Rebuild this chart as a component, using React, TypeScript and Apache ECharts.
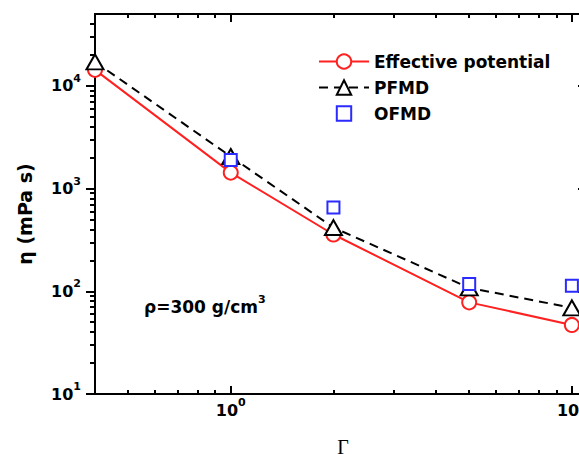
import React, { useEffect, useRef } from 'react';
import * as echarts from 'echarts';

// ---- data ----
const gammaEffective = [0.4, 1, 2, 5, 10];
const etaEffective = [14300, 1430, 357, 78, 47];
const gammaPFMD = [0.4, 1, 2, 5, 10];
const etaPFMD = [17100, 2050, 417, 108, 69];
const gammaOFMD = [1, 2, 5, 10];
const etaOFMD = [1900, 653, 118, 113];

const seriesNames = ['Effective potential', 'PFMD', 'OFMD'];

const xMajorTicks = [1, 10];
const xMinorTicks = [0.5, 0.6, 0.7, 0.8, 0.9, 2, 3, 4, 5, 6, 7, 8, 9];
const yMajorTicks = [10, 100, 1000, 10000];
const yMinorTicks = [
  20, 30, 40, 50, 60, 70, 80, 90,
  200, 300, 400, 500, 600, 700, 800, 900,
  2000, 3000, 4000, 5000, 6000, 7000, 8000, 9000,
  20000, 30000, 40000,
];

const X_MIN = 0.4;
const X_MAX = 11;
const Y_MIN = 10;
const Y_MAX = 50000;

const FONT = '"DejaVu Sans", sans-serif';

const powLabel = (v: number) => `{b|10}{s|${Math.round(Math.log10(v))}}`;

const labelRich = {
  b: { fontFamily: FONT, fontWeight: 'bold', fontSize: 16, color: '#000', lineHeight: 26 },
  s: { fontFamily: FONT, fontWeight: 'bold', fontSize: 11, color: '#000', lineHeight: 10, verticalAlign: 'top' },
};

function makeAxis(
  kind: 'x' | 'y',
  position: string,
  ticks: number[],
  tickLen: number,
  inside: boolean,
  labelMargin?: number
) {
  return {
    type: 'log',
    logBase: 10,
    position,
    min: kind === 'x' ? X_MIN : Y_MIN,
    max: kind === 'x' ? X_MAX : Y_MAX,
    axisLine: { show: true, onZero: false, lineStyle: { color: '#000', width: 2 } },
    axisTick: {
      show: true,
      inside,
      length: tickLen,
      customValues: ticks,
      lineStyle: { color: '#000', width: 2 },
    },
    axisLabel:
      labelMargin !== undefined
        ? { show: true, customValues: ticks, formatter: powLabel, rich: labelRich, margin: labelMargin }
        : { show: false },
    splitLine: { show: false },
    minorTick: { show: false },
    minorSplitLine: { show: false },
    z: 3,
  };
}

const zip = (xs: number[], ys: number[]) => xs.map((x, i) => [x, ys[i]]);

export default function App() {
  const ref = useRef<HTMLDivElement>(null);

  useEffect(() => {
    if (!ref.current) return;
    const chart = echarts.init(ref.current, null, { renderer: 'svg' });
    const option: any = {
      animation: false,
      backgroundColor: '#fff',
      grid: { left: 95, top: 14, width: 491, height: 380, containLabel: false, outerBoundsMode: 'none' },
      xAxis: [
        makeAxis('x', 'bottom', xMajorTicks, 8, true, 3),
        makeAxis('x', 'bottom', xMinorTicks, 4, true),
        makeAxis('x', 'top', xMajorTicks, 8, true),
        makeAxis('x', 'top', xMinorTicks, 4, true),
      ],
      yAxis: [
        makeAxis('y', 'left', yMajorTicks, 9, false, 14),
        makeAxis('y', 'left', yMinorTicks, 5, false),
        makeAxis('y', 'right', yMajorTicks, 8, true),
        makeAxis('y', 'right', yMinorTicks, 4, true),
      ],
      legend: {
        left: 318,
        top: 53,
        orient: 'vertical',
        padding: 0,
        itemWidth: 50,
        itemHeight: 18,
        itemGap: 9,
        selectedMode: false,
        textStyle: { fontFamily: FONT, fontWeight: 'bold', fontSize: 17, color: '#000' },
        data: seriesNames,
      },
      series: [
        {
          name: seriesNames[0],
          type: 'line',
          data: zip(gammaEffective, etaEffective),
          symbol: 'emptyCircle',
          symbolSize: 14,
          lineStyle: { color: '#ff2020', width: 2 },
          itemStyle: { color: '#ff2020', borderWidth: 1.5 },
        },
        {
          name: seriesNames[1],
          type: 'line',
          data: zip(gammaPFMD, etaPFMD),
          symbol: 'emptyTriangle',
          symbolSize: [17, 15],
          lineStyle: { color: '#000', width: 2, type: [9, 6] },
          itemStyle: { color: '#000', borderWidth: 1.5 },
        },
        {
          name: seriesNames[2],
          type: 'line',
          data: zip(gammaOFMD, etaOFMD),
          symbol: 'emptyRect',
          symbolSize: 12,
          lineStyle: { width: 0, opacity: 0 },
          itemStyle: { color: '#2b2bff', borderWidth: 1.5 },
        },
      ],
      graphic: [
        {
          type: 'text',
          x: 25,
          y: 214,
          rotation: Math.PI / 2,
          style: {
            text: 'η (mPa s)',
            font: `bold 19px ${FONT}`,
            fill: '#000',
            align: 'center',
            verticalAlign: 'middle',
            textAlign: 'center',
            textVerticalAlign: 'middle',
          },
        },
        {
          type: 'text',
          x: 144,
          y: 307,
          style: {
            text: '{a|ρ=300 g/cm}{s|3}',
            fill: '#000',
            align: 'left',
            verticalAlign: 'middle',
            textAlign: 'left',
            textVerticalAlign: 'middle',
            rich: {
              a: { fontFamily: FONT, fontWeight: 'bold', fontSize: 17, lineHeight: 26, fill: '#000' },
              s: { fontFamily: FONT, fontWeight: 'bold', fontSize: 11, lineHeight: 10, verticalAlign: 'top', fill: '#000' },
            },
          },
        },
        {
          type: 'text',
          x: 343,
          y: 437,
          style: {
            text: 'Γ',
            font: '20px "Liberation Serif", serif',
            fill: '#000',
            align: 'center',
            verticalAlign: 'top',
            textAlign: 'center',
            textVerticalAlign: 'top',
          },
        },
      ],
    };
    chart.setOption(option);
    return () => chart.dispose();
  }, []);

  return (
    <div
      ref={ref}
      style={{ position: 'fixed', left: 0, top: 0, width: 579, height: 454, background: '#fff' }}
    />
  );
}
